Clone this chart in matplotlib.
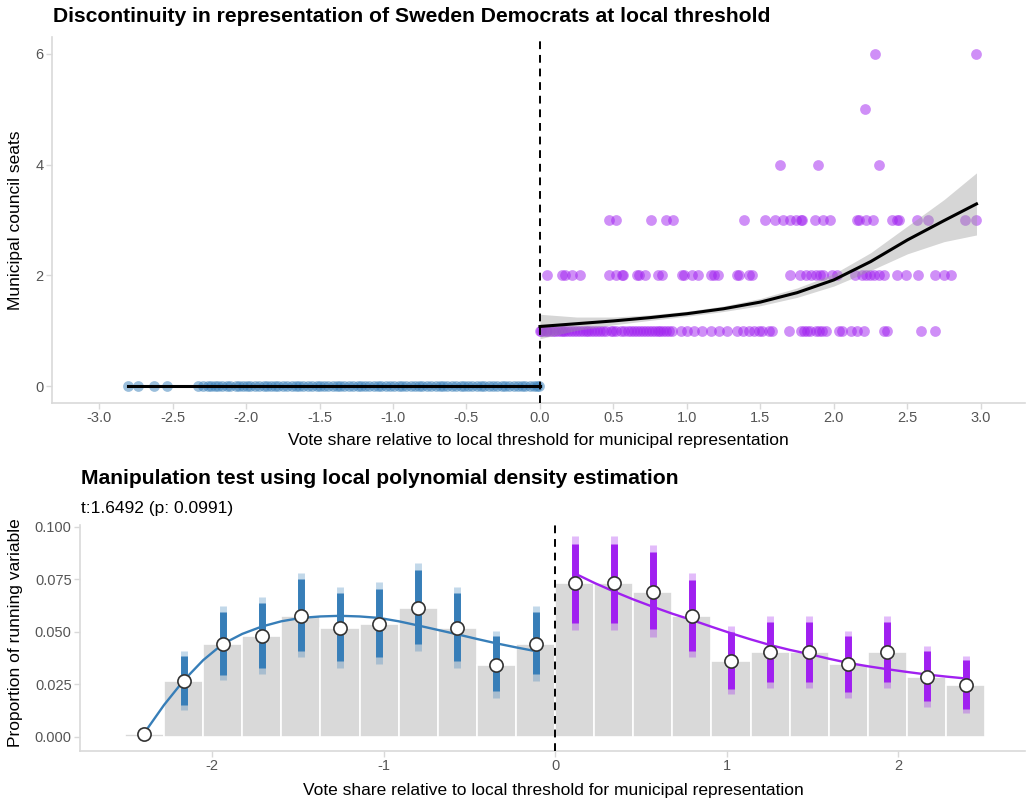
import numpy as np
import matplotlib
matplotlib.use("Agg")
import matplotlib.pyplot as plt

plt.rcParams['font.family'] = ['Liberation Sans', 'DejaVu Sans']
plt.rcParams['axes.unicode_minus'] = False

# ---- top panel data: council seats vs vote share ----
seats0_x = [-2.80, -2.733, -2.626, -2.535, -2.324, -2.29, -2.26, -2.24, -2.21, -2.19,
            -2.16, -2.13, -2.11, -2.07, -2.05, -2.02, -1.99, -1.97, -1.94, -1.91,
            -1.88, -1.86, -1.83, -1.80, -1.78, -1.75, -1.72, -1.69, -1.66, -1.64,
            -1.61, -1.58, -1.55, -1.52, -1.50, -1.47, -1.44, -1.41, -1.38, -1.36,
            -1.33, -1.30, -1.27, -1.24, -1.22, -1.19, -1.16, -1.13, -1.10, -1.08,
            -1.05, -1.02, -0.99, -0.96, -0.94, -0.91, -0.88, -0.85, -0.82, -0.80,
            -0.77, -0.74, -0.71, -0.68, -0.66, -0.63, -0.60, -0.57, -0.54, -0.52,
            -0.49, -0.46, -0.43, -0.40, -0.38, -0.35, -0.32, -0.29, -0.26, -0.24,
            -0.21, -0.18, -0.15, -0.12, -0.10, -0.07, -0.04, -0.02, -0.01]
seats1_x = [0.0, 0.01, 0.02, 0.04, 0.05, 0.07, 0.09, 0.10, 0.12, 0.14, 0.16, 0.17,
            0.19, 0.21, 0.23, 0.25, 0.27, 0.29, 0.31, 0.33, 0.35, 0.37, 0.39, 0.41,
            0.43, 0.45, 0.48, 0.50, 0.52, 0.55, 0.57, 0.60, 0.62, 0.64, 0.66, 0.68,
            0.70, 0.72, 0.74, 0.76, 0.78, 0.80, 0.82, 0.84, 0.86, 0.88, 0.90, 0.957,
            1.002, 1.048, 1.104, 1.161, 1.218, 1.274, 1.342, 1.38, 1.422, 1.456, 1.49,
            1.512, 1.558, 1.58, 1.694, 1.773, 1.796, 1.818, 1.84, 1.875, 1.898, 1.92,
            1.943, 2.034, 2.052, 2.113, 2.159, 2.204, 2.34, 2.36, 2.59, 2.687]
seats2_x = [0.045, 0.152, 0.168, 0.22, 0.27, 0.469, 0.519, 0.56, 0.567, 0.658, 0.673,
            0.712, 0.805, 0.832, 0.968, 0.98, 1.032, 1.077, 1.161, 1.184, 1.211, 1.342,
            1.354, 1.422, 1.444, 1.70, 1.769, 1.807, 1.846, 1.875, 1.902, 1.925, 1.984,
            2.023, 2.143, 2.193, 2.215, 2.243, 2.272, 2.306, 2.34, 2.426, 2.492, 2.571,
            2.687, 2.748, 2.798]
seats3_x = [0.469, 0.515, 0.757, 0.855, 0.905, 1.388, 1.531, 1.599, 1.655, 1.70, 1.739,
            1.773, 1.785, 1.871, 1.925, 1.973, 2.154, 2.170, 2.22, 2.265, 2.397, 2.43,
            2.442, 2.567, 2.639, 2.891, 2.968]
seats4_x = [1.63, 1.89, 2.31]
seats5_x = [2.21]
seats6_x = [2.28, 2.97]

# fitted seat curve above the threshold, with half-width of the band
fit_x = [0.0, 0.25, 0.5, 0.75, 1.0, 1.25, 1.5, 1.75, 2.0, 2.25, 2.5, 2.75, 2.97]
fit_y = [1.08, 1.13, 1.18, 1.24, 1.31, 1.40, 1.52, 1.69, 1.92, 2.25, 2.64, 2.99, 3.29]
fit_se = [0.22, 0.12, 0.07, 0.05, 0.045, 0.05, 0.065, 0.085, 0.11, 0.16, 0.25, 0.38, 0.56]

# ---- bottom panel data: density test ----
mid_left = [-2.394, -2.166, -1.938, -1.710, -1.482, -1.254, -1.026, -0.798, -0.570, -0.342, -0.114]
mid_right = [0.114, 0.342, 0.570, 0.798, 1.026, 1.254, 1.482, 1.710, 1.938, 2.166, 2.394]
bin_width = 0.228
prop_left = [0.0013, 0.0267, 0.0440, 0.0478, 0.0577, 0.0518, 0.0537, 0.0613, 0.0518, 0.0343, 0.0442]
prop_right = [0.0731, 0.0731, 0.0691, 0.0577, 0.0362, 0.0402, 0.0402, 0.0345, 0.0402, 0.0286, 0.0246]

ci_lo_left = [0.0005, 0.0154, 0.0294, 0.0329, 0.0408, 0.0360, 0.0378, 0.0444, 0.0360, 0.0217, 0.0297]
ci_hi_left = [0.0035, 0.0384, 0.0592, 0.0638, 0.0749, 0.0683, 0.0703, 0.0794, 0.0683, 0.0480, 0.0592]
cb_lo_left = [0.0, 0.0130, 0.0270, 0.0298, 0.0378, 0.0330, 0.0346, 0.0410, 0.0330, 0.0187, 0.0267]
cb_hi_left = [0.004, 0.0408, 0.0622, 0.0667, 0.0778, 0.0711, 0.0735, 0.0825, 0.0711, 0.0505, 0.0622]
ci_lo_right = [0.0543, 0.0543, 0.0511, 0.0408, 0.0230, 0.0262, 0.0262, 0.0214, 0.0262, 0.0170, 0.0135]
ci_hi_right = [0.0920, 0.0920, 0.0878, 0.0746, 0.0500, 0.0548, 0.0548, 0.0480, 0.0548, 0.0410, 0.0365]
cb_lo_right = [0.0510, 0.0510, 0.0476, 0.0378, 0.0203, 0.0235, 0.0235, 0.0187, 0.0235, 0.0143, 0.0114]
cb_hi_right = [0.0956, 0.0956, 0.0913, 0.0778, 0.0529, 0.0575, 0.0575, 0.0505, 0.0575, 0.0433, 0.0386]

dens_x_left = [-2.394, -2.280, -2.166, -2.052, -1.938, -1.824, -1.710, -1.596, -1.482, -1.368,
               -1.254, -1.140, -1.026, -0.912, -0.798, -0.684, -0.570, -0.456, -0.342, -0.228, -0.114]
dens_y_left = [0.0020, 0.0152, 0.0268, 0.0365, 0.0442, 0.0490, 0.0525, 0.0550, 0.0566, 0.0573,
               0.0576, 0.0573, 0.0566, 0.0550, 0.0530, 0.0509, 0.0488, 0.0466, 0.0445, 0.0426, 0.0408]
dens_x_right = [0.114, 0.228, 0.342, 0.456, 0.570, 0.684, 0.798, 0.912, 1.026, 1.140, 1.254,
                1.368, 1.482, 1.596, 1.710, 1.824, 1.938, 2.052, 2.166, 2.280, 2.394]
dens_y_right = [0.0778, 0.0733, 0.0692, 0.0654, 0.0619, 0.0586, 0.0556, 0.0524, 0.0493, 0.0464, 0.0437,
                0.0414, 0.0394, 0.0372, 0.0352, 0.0336, 0.0322, 0.0309, 0.0297, 0.0287, 0.0278]

BLUE = '#377EB8'
PURPLE = '#A020F0'
AXCOL = '#D9D9D9'
TICKCOL = '#555555'


def style_axes(ax):
    for side in ['top', 'right']:
        ax.spines[side].set_visible(False)
    for side in ['left', 'bottom']:
        ax.spines[side].set_color(AXCOL)
        ax.spines[side].set_linewidth(1.2)
    ax.tick_params(color=AXCOL, labelcolor=TICKCOL, length=4, width=1, labelsize=10.5, pad=2)


fig = plt.figure(figsize=(10.28, 8.0), dpi=100)

# ---------- top ----------
ax1 = fig.add_axes([52 / 1028, 1 - 403 / 800, 973 / 1028, 366 / 800])
style_axes(ax1)
ax1.scatter(seats0_x, np.zeros(len(seats0_x)), s=60, color=BLUE, alpha=0.5, linewidths=0, zorder=2)
for yv, xs in [(1, seats1_x), (2, seats2_x), (3, seats3_x), (4, seats4_x), (5, seats5_x), (6, seats6_x)]:
    ax1.scatter(xs, np.full(len(xs), yv), s=60, color=PURPLE, alpha=0.5, linewidths=0, zorder=2)

fit_y = np.array(fit_y)
fit_se = np.array(fit_se)
ax1.fill_between(fit_x, fit_y - fit_se, fit_y + fit_se, color='#999999', alpha=0.4, linewidth=0, zorder=3)
ax1.plot(fit_x, fit_y, color='black', lw=2.2, zorder=4)
ax1.plot([min(seats0_x), 0], [0, 0], color='black', lw=2.2, zorder=4)
ax1.axvline(0, color='black', lw=1.4, ls=(0, (4, 3)), zorder=5)

ax1.set_xlim(-3.32, 3.3)
ax1.set_ylim(-0.3, 6.3)
ax1.set_xticks(np.arange(-3.0, 3.01, 0.5))
ax1.set_xticklabels([f"{v:.1f}" for v in np.arange(-3.0, 3.01, 0.5)])
ax1.set_yticks([0, 2, 4, 6])

fig.text(53 / 1028, 1 - 17 / 800, "Discontinuity in representation of Sweden Democrats at local threshold",
         fontsize=15.2, fontweight='bold', va='center', ha='left')
fig.text(16 / 1028, 1 - 220 / 800, "Municipal council seats", rotation=90, fontsize=12.5,
         va='center', ha='center')
fig.text(538 / 1028, 1 - 440 / 800, "Vote share relative to local threshold for municipal representation",
         fontsize=12.5, va='center', ha='center')

# ---------- bottom ----------
ax2 = fig.add_axes([80 / 1028, 1 - 751 / 800, 945 / 1028, 226 / 800])
style_axes(ax2)
ax2.bar(mid_left + mid_right, prop_left + prop_right, width=bin_width, color='#D9D9D9',
        edgecolor='white', linewidth=1.2, zorder=1)

ax2.vlines(mid_left, cb_lo_left, cb_hi_left, color=BLUE, alpha=0.3, lw=5, zorder=2)
ax2.vlines(mid_left, ci_lo_left, ci_hi_left, color=BLUE, lw=5, zorder=3)
ax2.vlines(mid_right, cb_lo_right, cb_hi_right, color=PURPLE, alpha=0.3, lw=5, zorder=2)
ax2.vlines(mid_right, ci_lo_right, ci_hi_right, color=PURPLE, lw=5, zorder=3)

ax2.plot(dens_x_left, dens_y_left, color=BLUE, lw=1.7, zorder=4)
ax2.plot(dens_x_right, dens_y_right, color=PURPLE, lw=1.7, zorder=4)

ax2.plot(mid_left + mid_right, prop_left + prop_right, 'o', ms=9.5, mfc='white', mec='#333333',
         mew=1.2, zorder=5)
ax2.axvline(0, color='black', lw=1.4, ls=(0, (4, 3)), zorder=6)

ax2.set_xlim(-2.77, 2.74)
ax2.set_ylim(-0.0067, 0.1008)
ax2.set_xticks([-2, -1, 0, 1, 2])
ax2.set_yticks([0, 0.025, 0.05, 0.075, 0.1])
ax2.set_yticklabels(["0.000", "0.025", "0.050", "0.075", "0.100"])

fig.text(81 / 1028, 1 - 479 / 800, "Manipulation test using local polynomial density estimation",
         fontsize=15.2, fontweight='bold', va='center', ha='left')
fig.text(81 / 1028, 1 - 508 / 800, "t:1.6492 (p: 0.0991)", fontsize=12.5, va='center', ha='left')
fig.text(16 / 1028, 1 - 633 / 800, "Proportion of running variable", rotation=90, fontsize=12.5,
         va='center', ha='center')
fig.text(553 / 1028, 1 - 790 / 800, "Vote share relative to local threshold for municipal representation",
         fontsize=12.5, va='center', ha='center')

fig.savefig("out.png", dpi=100)
